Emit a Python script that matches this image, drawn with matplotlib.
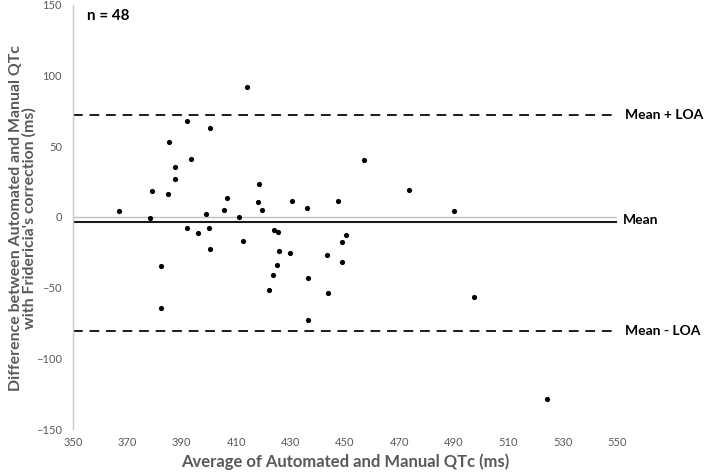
import matplotlib
matplotlib.use("Agg")
import matplotlib.pyplot as plt

avg_qtc = [366.9, 378.9, 378.4, 384.9, 385.3, 387.4, 387.4, 391.9, 393.3, 391.9,
           395.8, 399.0, 399.9, 400.4, 405.4, 406.5, 410.9, 413.9, 412.4, 418.4,
           417.9, 419.5, 430.4, 435.9, 447.4, 450.5, 423.9, 425.4, 456.9, 473.4,
           490.0, 400.4, 382.4, 382.4, 425.8, 429.9, 424.9, 423.4, 421.9, 436.4,
           436.4, 443.4, 443.9, 448.9, 448.9, 497.4, 524.4]
diff_qtc = [4.2, 18.3, -0.7, 16.2, 53.2, 35.2, 27.2, 68.0, 41.1, -7.7,
            -11.5, 2.4, -7.7, 63.1, 5.2, 13.2, 0.0, 91.9, -16.9, 23.2,
            10.3, 5.2, 11.0, 6.1, 11.0, -12.7, -9.4, -10.3, 40.1, 19.0,
            4.2, -22.5, -34.7, -64.7, -23.9, -25.8, -33.8, -40.8, -51.8, -42.9,
            -72.6, -26.7, -53.7, -17.8, -31.9, -56.7, -128.7]

mean_diff = -3.6
upper_loa = 72.0
lower_loa = -80.4

x_ticks = [350, 370, 390, 410, 430, 450, 470, 490, 510, 530, 550]
y_ticks = [-150, -100, -50, 0, 50, 100, 150]

plt.rcParams['font.family'] = ['Lato', 'DejaVu Sans']

fig = plt.figure(figsize=(7.09, 4.73), dpi=100)
ax = fig.add_axes([73/709, 1-429/473, (617-73)/709, (429-5)/473])

ax.set_xlim(350, 550)
ax.set_ylim(-150, 150)

# zero axis line (grey)
ax.hlines(0, 350, 550, color='#bfbfbf', lw=1.0, zorder=1)
# mean line
ax.hlines(mean_diff, 350, 550, color='#1a1a1a', lw=1.5, zorder=2)
# limits of agreement
ax.hlines([upper_loa, lower_loa], 350, 550, color='#1a1a1a', lw=1.4,
          linestyles=(0, (5, 3.5)), zorder=2)

ax.scatter(avg_qtc, diff_qtc, s=14, color='black', zorder=3, linewidths=0)

for s in ['top', 'right', 'bottom']:
    ax.spines[s].set_visible(False)
ax.spines['left'].set_color('#c8c8c8')
ax.spines['left'].set_linewidth(1.0)

ax.set_xticks(x_ticks)
ax.set_yticks(y_ticks)
ax.tick_params(axis='both', length=0, labelsize=8, labelcolor='#595959')
ax.tick_params(axis='x', pad=6)
ax.tick_params(axis='y', pad=8)

ax.set_xlabel('Average of Automated and Manual QTc (ms)', fontsize=12,
              fontweight='bold', color='#595959', labelpad=4)
ax.set_ylabel("Difference between Automated and Manual QTc\nwith Fridericia's correction (ms)",
              fontsize=11.4, fontweight='bold', color='#595959',
              linespacing=1.0)
ax.yaxis.set_label_coords(-36/544, 0.497)

ax.text(355, 142, 'n = 48', fontsize=11, fontweight='bold', color='black',
        ha='left', va='center')

ax.text(553, upper_loa, 'Mean + LOA', fontsize=10, fontweight='bold',
        ha='left', va='center', clip_on=False)
ax.text(552, mean_diff + 1.5, 'Mean', fontsize=10, fontweight='bold',
        ha='left', va='center', clip_on=False)
ax.text(553, lower_loa, 'Mean - LOA', fontsize=10, fontweight='bold',
        ha='left', va='center', clip_on=False)

fig.savefig('out.png', dpi=100)
